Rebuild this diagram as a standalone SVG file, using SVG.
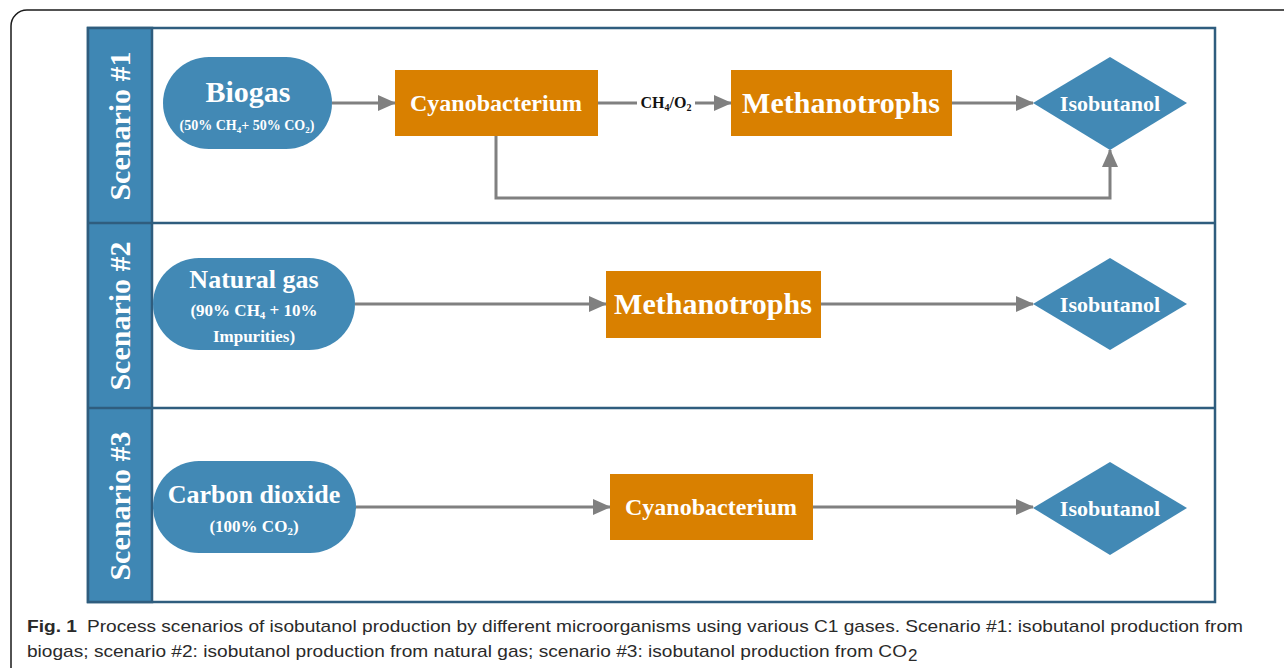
<svg xmlns="http://www.w3.org/2000/svg" width="1284" height="668" viewBox="0 0 1284 668">
<style>
.lbl{font-family:"Liberation Serif","Times New Roman",serif;font-weight:bold;fill:#fff;text-anchor:middle}
.pill{fill:#4289b5}
.box{fill:#d98000}
.dia{fill:#4289b5}
.con{fill:none;stroke:#808080;stroke-width:3}
.cap{font-family:"Liberation Sans",Arial,sans-serif;font-size:17px;fill:#2a2a2a}
</style>
<defs>
<marker id="ah" viewBox="0 0 18 16" refX="17" refY="8" markerWidth="18" markerHeight="16" markerUnits="userSpaceOnUse" orient="auto">
<path d="M0,0 L18,8 L0,16 z" fill="#808080"/>
</marker>
</defs>
<rect width="1284" height="668" fill="#fff"/>
<rect x="11" y="10" width="1320" height="720" rx="16" fill="none" stroke="#1a1a1a" stroke-width="1.5"/>

<g id="frame">
<rect x="88" y="28" width="1127" height="574" fill="#fff" stroke="#2f5d7e" stroke-width="2.5"/>
<rect x="88" y="28" width="64" height="574" fill="#3f87b4" stroke="#2f5d7e" stroke-width="2.5"/>
<line x1="88" y1="223" x2="1215" y2="223" stroke="#2f5d7e" stroke-width="2.5"/>
<line x1="88" y1="408" x2="1215" y2="408" stroke="#2f5d7e" stroke-width="2.5"/>
</g>
<g id="lanes">
<text class="lbl" font-size="30" transform="translate(130,126) rotate(-90)">Scenario #1</text>
<text class="lbl" font-size="30" transform="translate(130,316) rotate(-90)">Scenario #2</text>
<text class="lbl" font-size="30" transform="translate(130,506) rotate(-90)">Scenario #3</text>
</g>

<g id="connectors">
<path class="con" d="M332,103 H395" marker-end="url(#ah)"/>
<path class="con" d="M598,103 H637"/>
<path class="con" d="M695,103 H731" marker-end="url(#ah)"/>
<path class="con" d="M952,103 H1033" marker-end="url(#ah)"/>
<path class="con" d="M496,136 V198 H1110 V150" marker-end="url(#ah)"/>
<path class="con" d="M355,304 H606" marker-end="url(#ah)"/>
<path class="con" d="M821,304 H1033" marker-end="url(#ah)"/>
<path class="con" d="M356,507 H610" marker-end="url(#ah)"/>
<path class="con" d="M813,507 H1033" marker-end="url(#ah)"/>
<text x="666" y="108" font-family="Liberation Serif,serif" font-weight="bold" font-size="16" fill="#111" text-anchor="middle">CH<tspan font-size="10" dy="3">4</tspan><tspan dy="-3">/O</tspan><tspan font-size="10" dy="3">2</tspan></text>
</g>

<g id="biogas">
<rect class="pill" x="163" y="57" width="169" height="92" rx="46"/>
<text class="lbl" x="248" y="102" font-size="30">Biogas</text>
<text class="lbl" x="247" y="130" font-size="14">(50% CH<tspan font-size="9" dy="3">4</tspan><tspan dy="-3">+ 50% CO</tspan><tspan font-size="9" dy="3">2</tspan><tspan dy="-3">)</tspan></text>
</g>
<g id="cyano1">
<rect class="box" x="395" y="70" width="203" height="66"/>
<text class="lbl" x="496" y="111" font-size="24">Cyanobacterium</text>
</g>
<g id="methano1">
<rect class="box" x="731" y="70" width="221" height="66"/>
<text class="lbl" x="841" y="113" font-size="30">Methanotrophs</text>
</g>
<g id="iso1">
<polygon class="dia" points="1110,57 1187,103 1110,150 1033,103"/>
<text class="lbl" x="1110" y="111" font-size="22">Isobutanol</text>
</g>

<g id="natgas">
<rect class="pill" x="153" y="258" width="202" height="92" rx="46"/>
<text class="lbl" x="254" y="288" font-size="26">Natural gas</text>
<text class="lbl" x="254" y="316" font-size="17">(90% CH<tspan font-size="11" dy="3">4</tspan><tspan dy="-3"> + 10%</tspan></text>
<text class="lbl" x="254" y="342" font-size="17">Impurities)</text>
</g>
<g id="methano2">
<rect class="box" x="606" y="271" width="215" height="67"/>
<text class="lbl" x="713" y="314" font-size="30">Methanotrophs</text>
</g>
<g id="iso2">
<polygon class="dia" points="1110,258 1187,304 1110,350 1033,304"/>
<text class="lbl" x="1110" y="312" font-size="22">Isobutanol</text>
</g>

<g id="co2">
<rect class="pill" x="153" y="461" width="203" height="92" rx="46"/>
<text class="lbl" x="254" y="503" font-size="26">Carbon dioxide</text>
<text class="lbl" x="254" y="532" font-size="17">(100% CO<tspan font-size="11" dy="3">2</tspan><tspan dy="-3">)</tspan></text>
</g>
<g id="cyano3">
<rect class="box" x="610" y="474" width="203" height="66"/>
<text class="lbl" x="711" y="515" font-size="24">Cyanobacterium</text>
</g>
<g id="iso3">
<polygon class="dia" points="1110,462 1187,508 1110,555 1033,508"/>
<text class="lbl" x="1110" y="516" font-size="22">Isobutanol</text>
</g>

<g id="caption">
<text class="cap" x="27" y="632" font-weight="bold" textLength="50" lengthAdjust="spacingAndGlyphs">Fig. 1</text>
<text class="cap" x="87" y="632" textLength="1156" lengthAdjust="spacingAndGlyphs">Process scenarios of isobutanol production by different microorganisms using various C1 gases. Scenario #1: isobutanol production from</text>
<text class="cap" x="27" y="657" textLength="880" lengthAdjust="spacingAndGlyphs">biogas; scenario #2: isobutanol production from natural gas; scenario #3: isobutanol production from CO</text>
<text class="cap" x="908" y="661" font-size="11">2</text>
</g>
</svg>
